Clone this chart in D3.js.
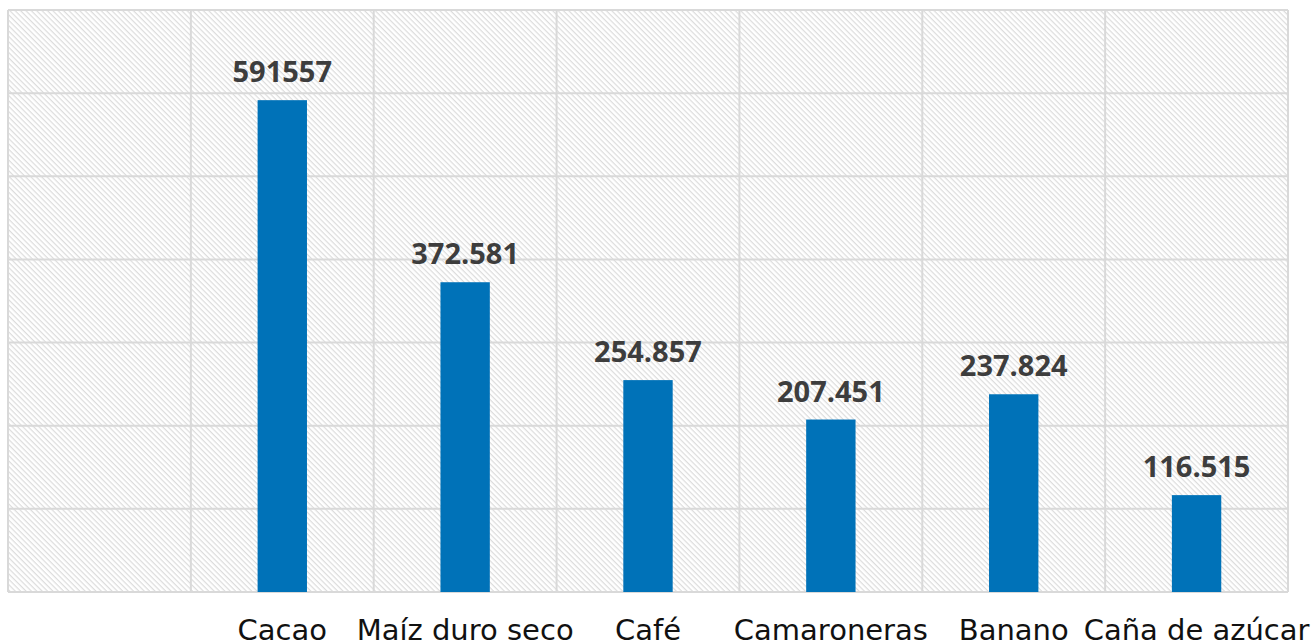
<!DOCTYPE html>
<html><head><meta charset="utf-8">
<script src="https://cdn.jsdelivr.net/npm/d3@7"></script>
<style>html,body{margin:0;padding:0;background:#fff;}svg{display:block;}</style>
</head><body>
<svg id="chart" width="1311" height="644"></svg>
<script>
const categories = ["Cacao", "Maíz duro seco", "Café", "Camaroneras", "Banano", "Caña de azúcar"];
const values = [591557, 372581, 254857, 207451, 237824, 116515];
const valueLabels = ["591557", "372.581", "254.857", "207.451", "237.824", "116.515"];
const yTicks = [0, 100000, 200000, 300000, 400000, 500000, 600000, 700000];

const svg = d3.select("#chart");
const L = 8, R = 1288, T = 10, B = 592;

const defs = svg.append("defs");
const pat = defs.append("pattern").attr("id", "hatch").attr("patternUnits", "userSpaceOnUse")
  .attr("width", 8).attr("height", 3.8).attr("patternTransform", "rotate(45)");
pat.append("rect").attr("width", 8).attr("height", 3.8).attr("fill", "#fff");
pat.append("rect").attr("width", 8).attr("height", 1.2).attr("fill", "#dcdcdc");

const x = d3.scaleBand().domain([""].concat(categories)).range([L, R]).paddingInner(0.73).paddingOuter(0.365);
const xb = d3.scaleBand().domain([""].concat(categories)).range([L, R]);
const y = d3.scaleLinear().domain([0, 700000]).range([B, T]);

svg.append("rect").attr("x", L).attr("y", T).attr("width", R - L).attr("height", B - T).attr("fill", "url(#hatch)");

// horizontal grid
svg.append("g").selectAll("line").data(yTicks).join("line")
  .attr("x1", L).attr("x2", R).attr("y1", d => y(d)).attr("y2", d => y(d))
  .attr("stroke", "#d9d9d9").attr("stroke-width", 2);
// vertical grid
const vx = xb.domain().map(d => xb(d)).concat([R]);
svg.append("g").selectAll("line").data(vx).join("line")
  .attr("x1", d => d).attr("x2", d => d).attr("y1", T).attr("y2", B)
  .attr("stroke", "#d9d9d9").attr("stroke-width", 2);

// bars
svg.append("g").selectAll("rect").data(values).join("rect")
  .attr("x", (d, i) => x(categories[i])).attr("width", x.bandwidth())
  .attr("y", d => y(d)).attr("height", d => B - y(d))
  .attr("fill", "#0072b8");

// value labels
svg.append("g").selectAll("text").data(values).join("text")
  .attr("x", (d, i) => xb(categories[i]) + xb.bandwidth() / 2)
  .attr("y", d => y(d) - 18)
  .attr("text-anchor", "middle")
  .attr("font-family", "'Open Sans', sans-serif").attr("font-weight", "bold").attr("font-size", 29)
  .attr("fill", "#3d3d3d")
  .text((d, i) => valueLabels[i]);

// x axis labels
const xAxis = d3.axisBottom(xb).tickSize(0).tickPadding(0);
const gx = svg.append("g").attr("transform", `translate(0,${B})`).call(xAxis);
gx.select(".domain").remove();
gx.selectAll("text").attr("y", 48).attr("dy", null)
  .attr("font-family", "'DejaVu Sans', sans-serif").attr("font-size", 29).attr("fill", "#111");
</script>
</body></html>
